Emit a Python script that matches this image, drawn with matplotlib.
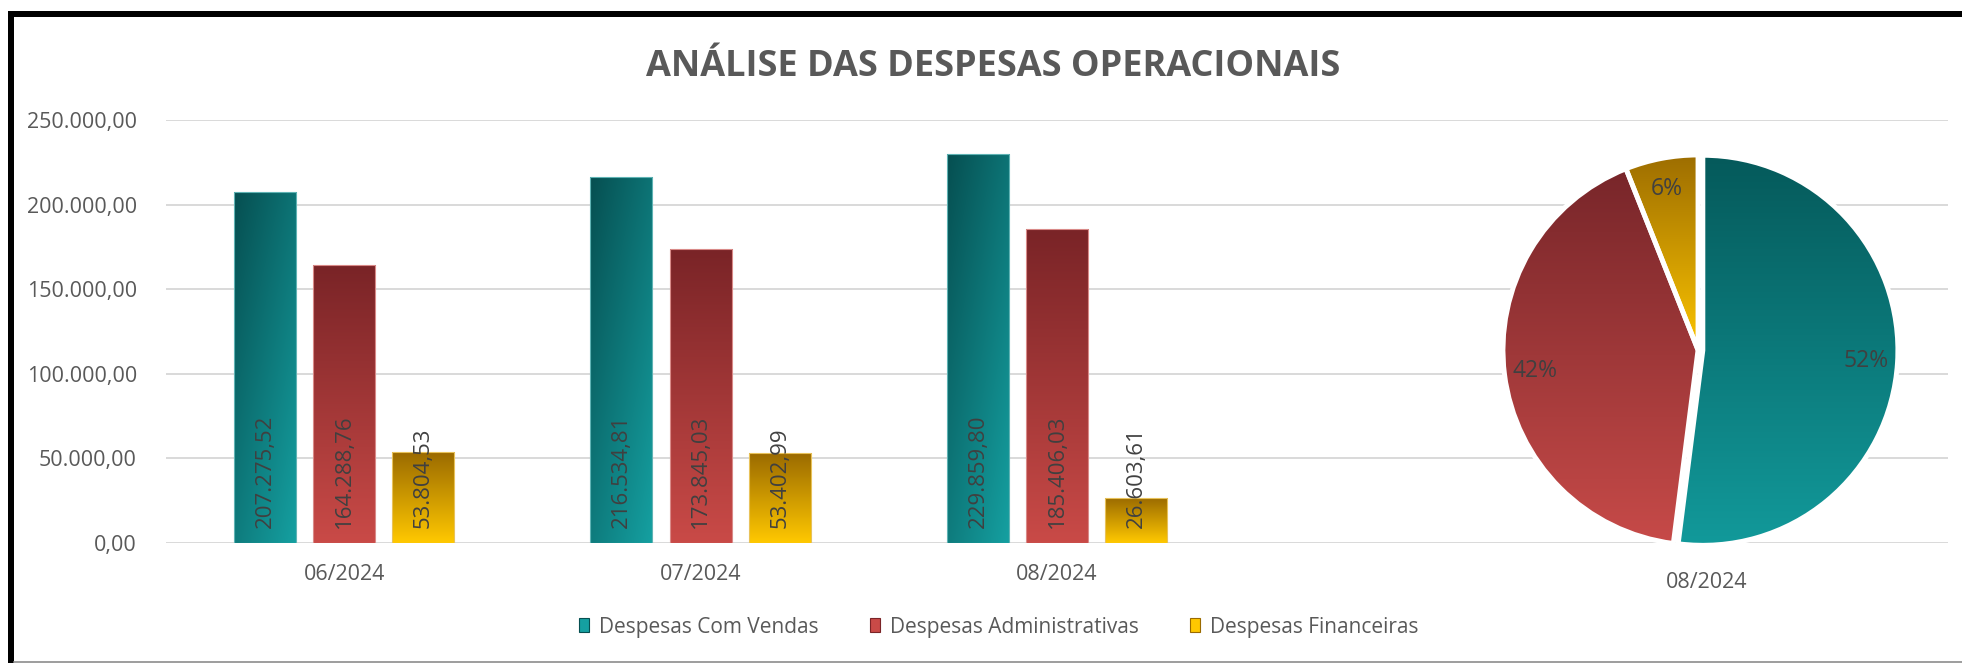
import matplotlib
matplotlib.use('Agg')
import matplotlib.pyplot as plt
import numpy as np
from matplotlib.colors import to_rgb
from matplotlib.patches import Rectangle, Patch
from matplotlib.lines import Line2D
from matplotlib.ticker import FuncFormatter

plt.rcParams['font.family'] = ['Open Sans', 'DejaVu Sans']

# dados
categorias = ['06/2024', '07/2024', '08/2024']
series = ['Despesas Com Vendas', 'Despesas Administrativas', 'Despesas Financeiras']
vendas = [207275.52, 216534.81, 229859.80]
administrativas = [164288.76, 173845.03, 185406.03]
financeiras = [53804.53, 53402.99, 26603.61]
mes_pizza = '08/2024'

W, H = 1962, 663


def br(v):
    # formato brasileiro 1.234,56
    s = f'{v:,.2f}'
    return s.replace(',', '#').replace('.', ',').replace('#', '.')


def gradiente(c_top, c_bot, diag=0.0, n=64):
    v = np.linspace(0, 1, n)[:, None]
    h = np.linspace(0, 1, n)[None, :]
    t = (1 - diag) * v + diag * h
    c1 = np.array(to_rgb(c_top))
    c2 = np.array(to_rgb(c_bot))
    return c1 + (c2 - c1) * t[..., None]


fig = plt.figure(figsize=(W / 100, H / 100), dpi=100)

# moldura
fig.add_artist(Rectangle((8 / W, 1 - 17 / H), (W - 8) / W, 6 / H, transform=fig.transFigure,
                         facecolor='black', edgecolor='none'))
fig.add_artist(Rectangle((8 / W, 0), 6 / W, (H - 11) / H, transform=fig.transFigure,
                         facecolor='black', edgecolor='none'))
fig.add_artist(Line2D([14 / W, 1], [1 - 662 / H, 1 - 662 / H], transform=fig.transFigure,
                      color='#8c8c8c', lw=1.2))

# titulo
fig.text(993.5 / W, 1 - 76 / H, 'ANÁLISE DAS DESPESAS OPERACIONAIS', ha='center', va='baseline',
         fontsize=26, fontweight='bold', color='#595959')

# grafico de barras
ax = fig.add_axes([166 / W, 1 - 543 / H, (1948 - 166) / W, (543 - 120) / H])
for s in ax.spines.values():
    s.set_visible(False)
ax.set_yticks(np.arange(0, 250001, 50000))
ax.yaxis.set_major_formatter(FuncFormatter(lambda v, p: br(v)))
ax.grid(axis='y', color='#d9d9d9', lw=1.4)
ax.set_axisbelow(True)
ax.set_xticks(range(len(categorias)))
ax.set_xticklabels(categorias)
ax.tick_params(axis='y', length=0, labelsize=15.5, labelcolor='#595959', pad=21)
ax.tick_params(axis='x', length=0, labelsize=15.5, labelcolor='#595959', pad=15)

cores_barras = [('#064f51', '#15a0a1', 0.45, '#5fb3b4'),
                ('#7a2427', '#c94a47', 0.0, '#d98a88'),
                ('#9a6a00', '#ffc800', 0.0, '#e8c25a')]
offsets = [-0.222, 0.0, 0.222]
largura = 0.174
x = np.arange(len(categorias))
for vals, off, (c1, c2, dg, ec) in zip([vendas, administrativas, financeiras], offsets, cores_barras):
    bars = ax.bar(x + off, vals, width=largura, facecolor='none', edgecolor=ec, lw=0.8, zorder=3)
    for b, v in zip(bars, vals):
        x0, y0 = b.get_x(), b.get_y()
        im = ax.imshow(gradiente(c1, c2, dg), extent=(x0, x0 + b.get_width(), y0, y0 + b.get_height()),
                       origin='upper', aspect='auto', interpolation='bilinear', zorder=2)
        im.set_clip_path(b)
        ax.annotate(br(v), (b.get_x() + b.get_width() / 2, 0), xytext=(0, 10.5),
                    textcoords='offset points', rotation=90, ha='center', va='bottom',
                    fontsize=16, color='#404040', zorder=5)
ax.set_xlim(-0.5, 4.5)
ax.set_ylim(0, 250000)

# grafico de pizza (ultimo mes)
valores_pizza = [vendas[-1], administrativas[-1], financeiras[-1]]
cores_pizza = [('#055a5b', '#12999a'), ('#78262a', '#c64a48'), ('#9e6e00', '#fbc400')]
half = 195 * 1.05
ax2 = fig.add_axes([(1698 - half) / W, 1 - (350 + half) / H, 2 * half / W, 2 * half / H])
ax2.patch.set_alpha(0)
wedges, texts, autotexts = ax2.pie(valores_pizza, startangle=90, counterclock=False,
                                   explode=[0.025, 0, 0], autopct=lambda p: f'{p:.0f}%',
                                   pctdistance=0.84,
                                   wedgeprops=dict(edgecolor='white', linewidth=3.5),
                                   textprops=dict(fontsize=16.5, color='#404040'))
for w, (c1, c2) in zip(wedges, cores_pizza):
    ext = w.get_path().get_extents()
    im = ax2.imshow(gradiente(c1, c2), extent=(ext.x0, ext.x1, ext.y0, ext.y1),
                    origin='upper', aspect='auto', interpolation='bilinear', zorder=1)
    im.set_clip_path(w)
    w.set_facecolor('none')
    w.set_zorder(2)
for t in autotexts:
    t.set_zorder(3)
ax2.set_xlim(-1.05, 1.05)
ax2.set_ylim(-1.05, 1.05)
ax2.set_aspect('equal')
ax2.axis('off')
fig.text(1707 / W, 1 - 582 / H, mes_pizza, ha='center', va='center', fontsize=15.5, color='#595959')

# legenda
handles = [Patch(facecolor=c[1], edgecolor=c[0], lw=0.8) for c in cores_barras]
fig.legend(handles, series, loc='center', bbox_to_anchor=(998.5 / W, 1 - 627 / H), ncol=3,
           frameon=False, fontsize=15, handlelength=0.48, handleheight=0.67,
           handletextpad=0.48, columnspacing=2.45, labelcolor='#595959')

fig.savefig('out.png', dpi=100)
